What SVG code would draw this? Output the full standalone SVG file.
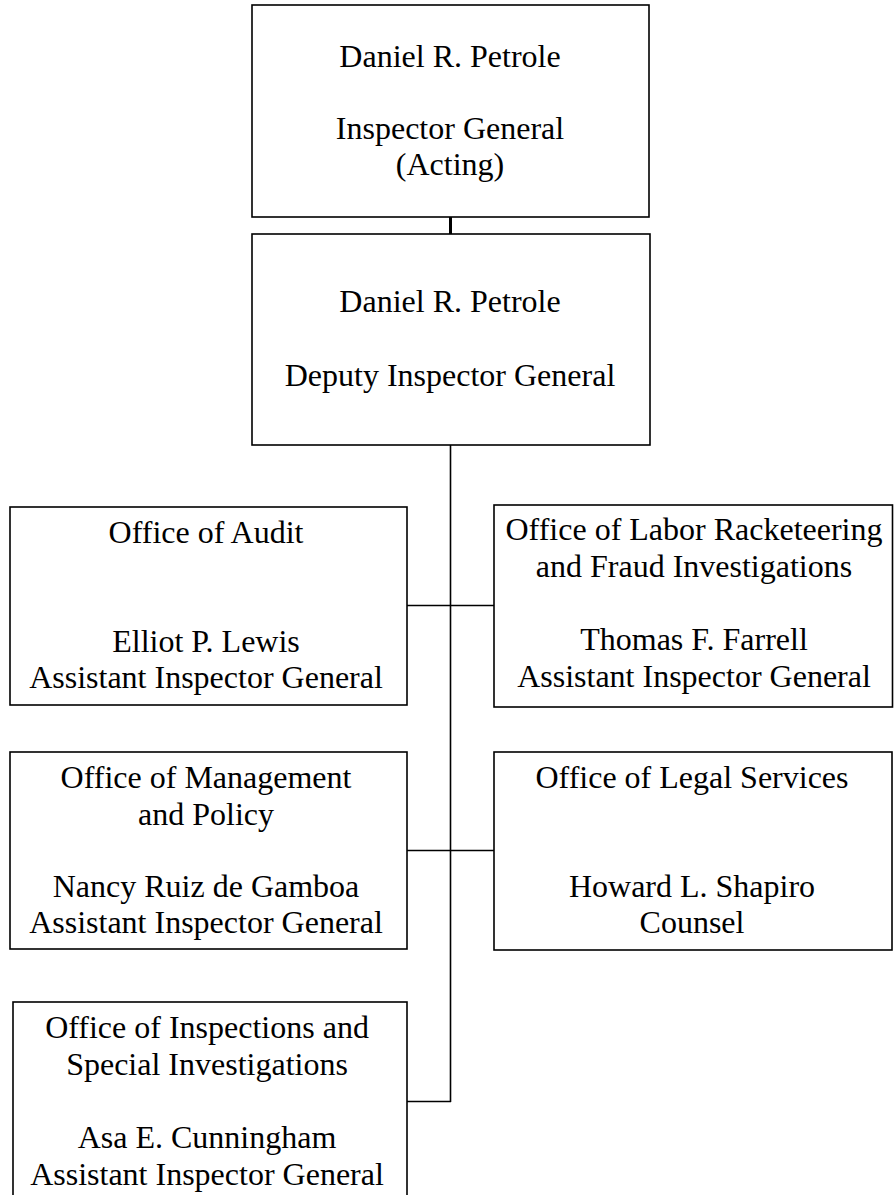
<svg xmlns="http://www.w3.org/2000/svg" width="894" height="1195" viewBox="0 0 894 1195">
<style>
.box{fill:#fff;stroke:#000;stroke-width:1.6}
.t{font-family:"Liberation Serif","Times New Roman",serif;font-size:32px;fill:#000;text-anchor:middle}
.c{fill:none;stroke:#000;stroke-width:1.6}
</style>
<rect width="894" height="1195" fill="#fff"/>
<g id="connectors">
<line x1="450.5" y1="217" x2="450.5" y2="234" stroke="#000" stroke-width="3"/>
<line class="c" x1="450.5" y1="445" x2="450.5" y2="1102"/>
<line class="c" x1="407" y1="605.5" x2="494" y2="605.5"/>
<line class="c" x1="407" y1="850.5" x2="494" y2="850.5"/>
<line class="c" x1="407" y1="1101.5" x2="451" y2="1101.5"/>
</g>
<g id="n-ig">
<rect class="box" x="252" y="5" width="397" height="212"/>
<text class="t" x="450" y="67">Daniel R. Petrole</text>
<text class="t" x="450" y="139">Inspector General</text>
<text class="t" x="450" y="175">(Acting)</text>
</g>
<g id="n-dig">
<rect class="box" x="252" y="234" width="398" height="211"/>
<text class="t" x="450" y="312">Daniel R. Petrole</text>
<text class="t" x="450" y="386">Deputy Inspector General</text>
</g>
<g id="n-audit">
<rect class="box" x="10" y="507" width="397" height="198"/>
<text class="t" x="206" y="543">Office of Audit</text>
<text class="t" x="206" y="652">Elliot P. Lewis</text>
<text class="t" x="206" y="688">Assistant Inspector General</text>
</g>
<g id="n-labor">
<rect class="box" x="494" y="505" width="398.5" height="202"/>
<text class="t" x="694" y="540">Office of Labor Racketeering</text>
<text class="t" x="694" y="577">and Fraud Investigations</text>
<text class="t" x="694" y="650">Thomas F. Farrell</text>
<text class="t" x="694" y="687">Assistant Inspector General</text>
</g>
<g id="n-mgmt">
<rect class="box" x="10" y="752" width="397" height="197"/>
<text class="t" x="206" y="788">Office of Management</text>
<text class="t" x="206" y="825">and Policy</text>
<text class="t" x="206" y="897">Nancy Ruiz de Gamboa</text>
<text class="t" x="206" y="933">Assistant Inspector General</text>
</g>
<g id="n-legal">
<rect class="box" x="494" y="752" width="398" height="198"/>
<text class="t" x="692" y="788">Office of Legal Services</text>
<text class="t" x="692" y="897">Howard L. Shapiro</text>
<text class="t" x="692" y="933">Counsel</text>
</g>
<g id="n-insp">
<rect class="box" x="13" y="1002" width="394" height="210"/>
<text class="t" x="207" y="1038">Office of Inspections and</text>
<text class="t" x="207" y="1075">Special Investigations</text>
<text class="t" x="207" y="1148">Asa E. Cunningham</text>
<text class="t" x="207" y="1185">Assistant Inspector General</text>
</g>
</svg>
